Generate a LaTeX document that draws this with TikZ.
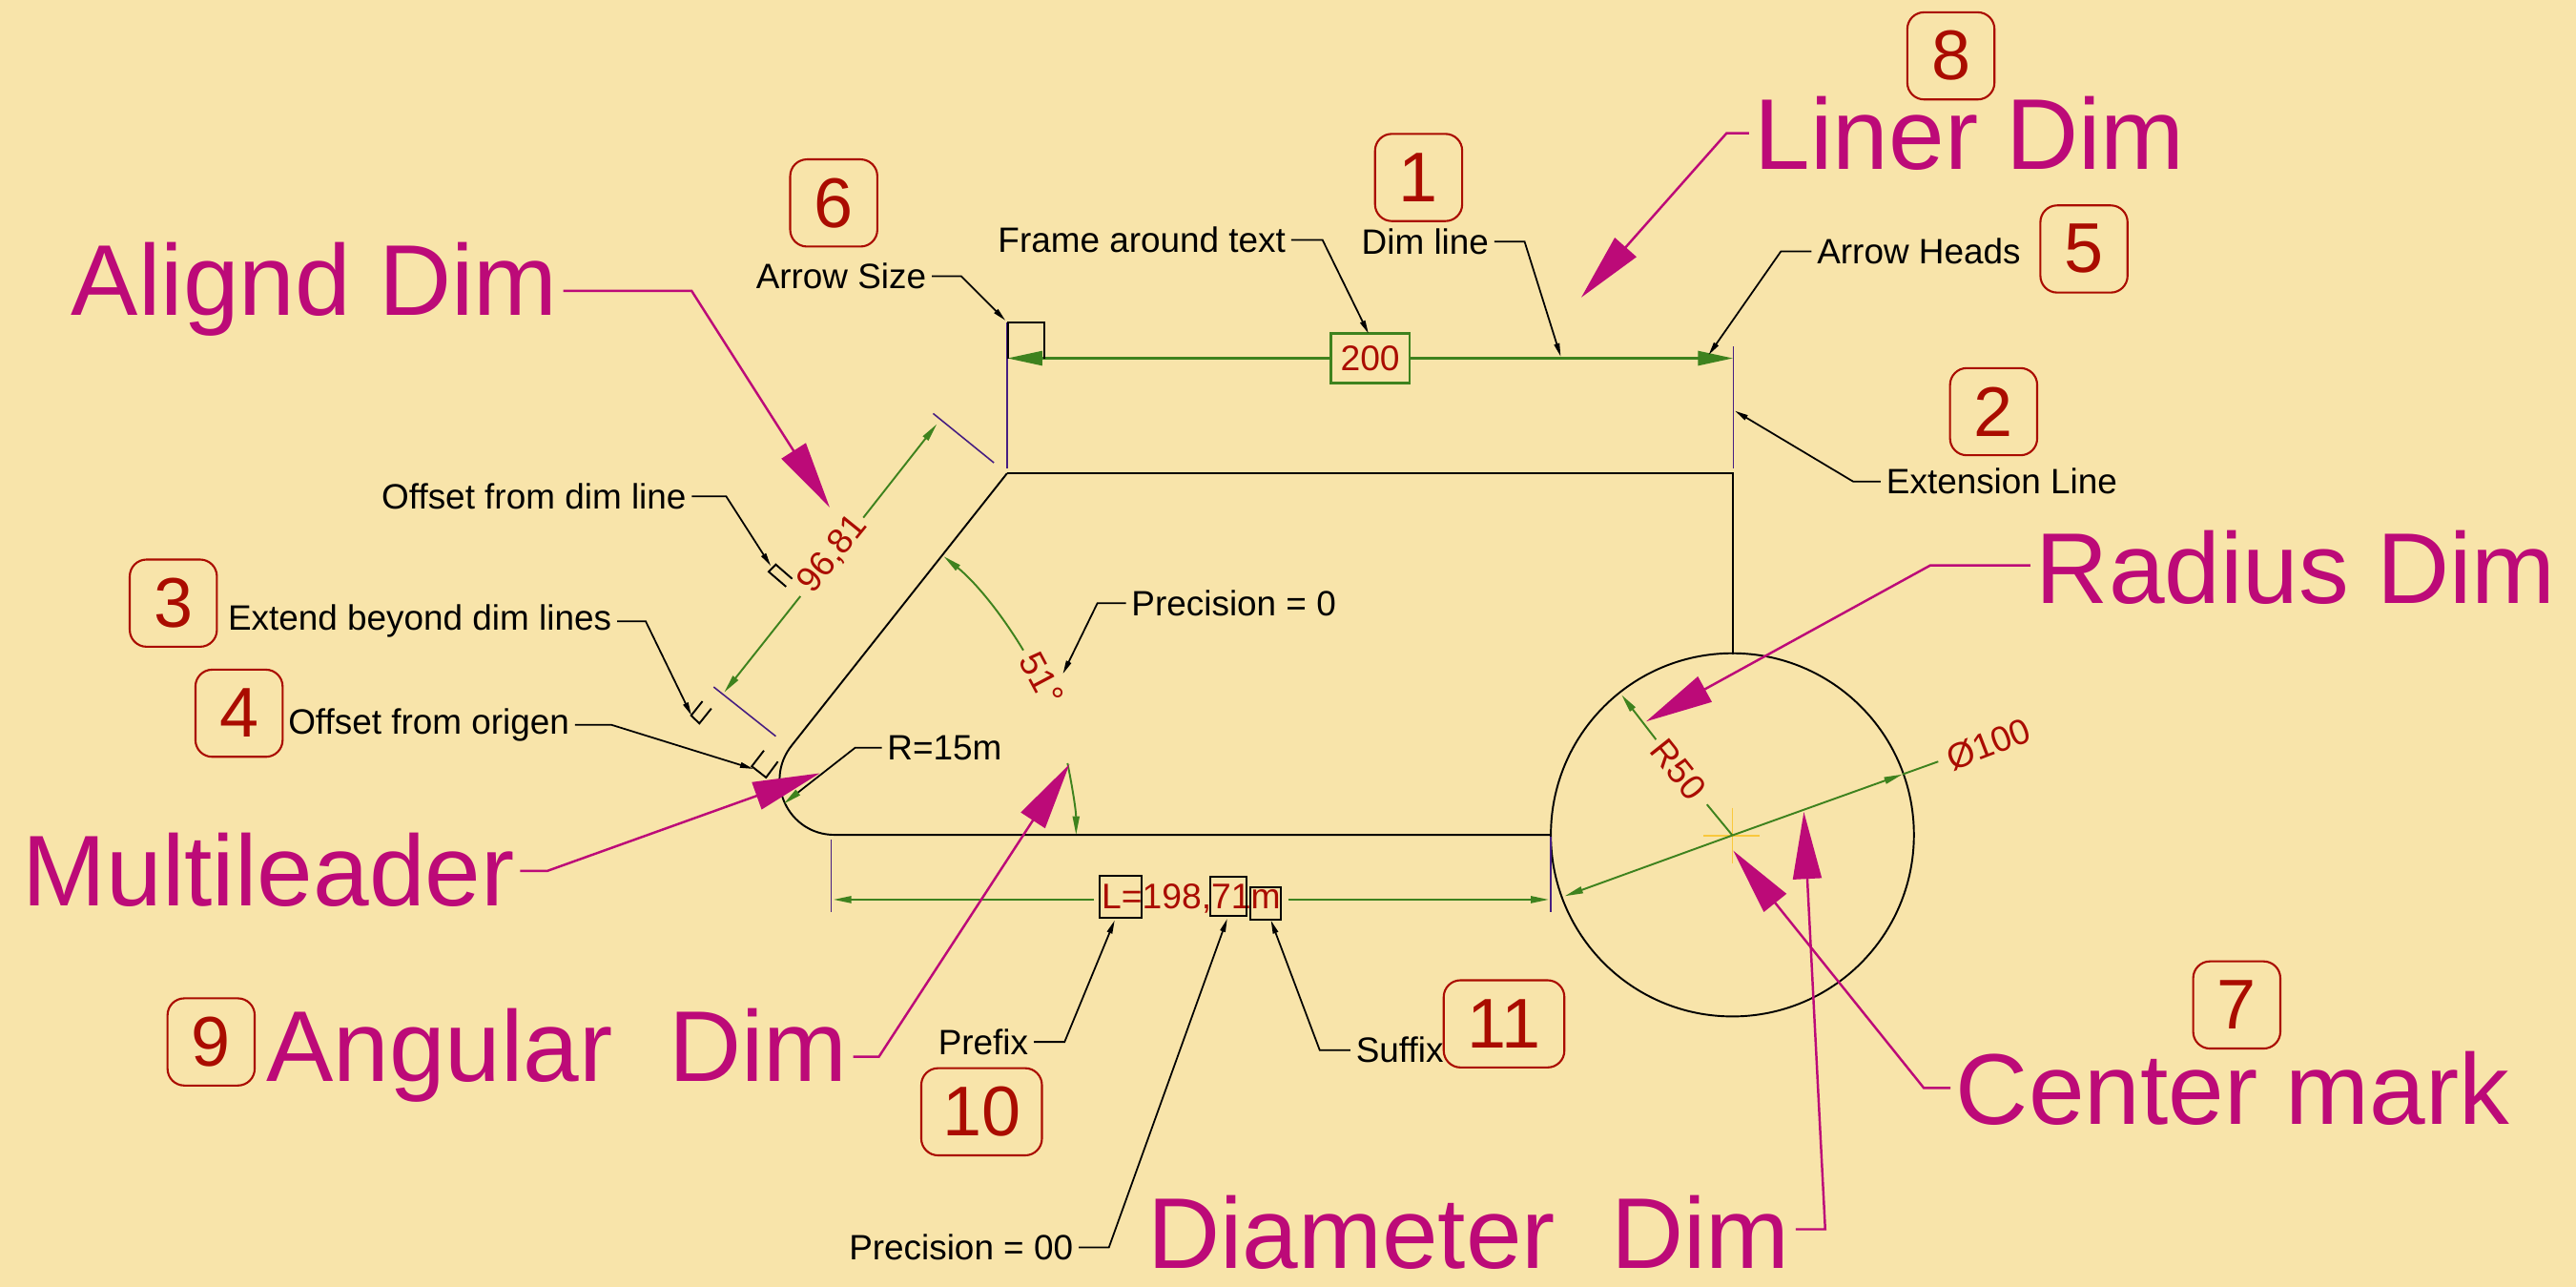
\documentclass[tikz,border=0pt]{standalone}
\usepackage{fontspec}
\setmainfont{Liberation Sans}
\usetikzlibrary{arrows.meta}
\definecolor{paper}{RGB}{248,228,170}
\definecolor{callred}{RGB}{170,12,0}
\definecolor{callmag}{RGB}{188,10,120}
\definecolor{dimgreen}{RGB}{62,130,30}
\definecolor{extpurple}{RGB}{70,30,130}
\definecolor{markyellow}{RGB}{250,200,60}
\tikzset{
  numbox/.style={draw=callred, text=callred, line width=0.6pt, rounded corners=5pt, inner sep=0pt,
    minimum width=26pt, minimum height=26pt, font=\fontsize{21}{24}\selectfont},
  widebox/.style={numbox, minimum width=36pt},
  biglabel/.style={text=callmag, anchor=base, inner sep=1.5pt, font=\fontsize{30}{34}\selectfont},
  smalllabel/.style={text=black, inner sep=1.5pt, font=\fontsize{10.5}{12}\selectfont},
  dimtext/.style={text=callred, inner sep=0pt, font=\fontsize{10.6}{12}\selectfont},
  bigleader/.style={callmag, line width=0.7pt, -{Triangle[length=20pt,width=8.5pt]}},
  smallleader/.style={black, line width=0.5pt, -{Triangle[length=4pt,width=1.6pt]}},
  dimline/.style={dimgreen, line width=0.55pt},
  dimtip/.style={dimline, -{Triangle[length=5.5pt,width=2pt]}},
  extline/.style={extpurple, line width=0.45pt},
  part/.style={black, line width=0.55pt},
  framebox/.style={black, line width=0.55pt}
}
\begin{document}
\begin{tikzpicture}[x=0.017226cm, y=-0.017226cm]
  % Background
  \fill[paper] (0,0) rectangle (1568,783);
  \useasboundingbox (0,0) rectangle (1568,783);

  % Part outline
  \draw[part] (613,288) -- (1055,288) -- (1055,398);
  \draw[part] (613,288) -- (482,453.5) .. controls (464.4,475.4) and (479.9,508) .. (508,508) -- (944,508);
  \draw[part] (1054.5,508) circle (110.5);

  % Linear dimension
  \draw[extline] (613,196) -- (613,285);
  \draw[extline] (1055,211) -- (1055,285);
  \node[draw=dimgreen, line width=0.7pt, dimtext, minimum width=23.5pt, minimum height=14.7pt] (dimTop) at (834,218) {200};
  \draw[dimgreen, line width=0.9pt, -{Triangle[length=10.5pt,width=4.2pt]}] (dimTop.west) -- (613,218);
  \draw[dimgreen, line width=0.9pt, -{Triangle[length=10.5pt,width=4.2pt]}] (dimTop.east) -- (1055,218);
  \draw[framebox] (613.8,218) -- (613.8,196) -- (635.8,196) -- (635.8,218);

  % Aligned dimension
  \draw[extline] (568,251.6) -- (605,281.6);
  \draw[extline] (434.4,418) -- (472.2,448);
  \node[dimtext, rotate=51] (dimAlign) at (507,337) {96,81};
  \draw[dimtip] (525.5,315) -- (570.3,258);
  \draw[dimtip] (487.2,362.8) -- (440.8,421.3);

  % Angular dimension
  \node[dimtext, rotate=-62] (dimAngle) at (634,413) {51°};
  \draw[dimline, {Triangle[length=5.5pt,width=2pt]}-] (574.4,338.5) .. controls (594.1,354.5) and (609.8,373.9) .. (622.9,395.7);
  \draw[dimline, -{Triangle[length=5.5pt,width=2pt]}] (649.8,464.4) .. controls (652.7,478.7) and (655,493.4) .. (655,508);

  % Bottom dimension
  \draw[extline] (506,511) -- (506,555);
  \draw[extline] (944,509) -- (944,555);
  \node[dimtext] (dimBottom) at (725,547) {L=198,71m};
  \draw[dimtip, line width=0.7pt] (666,547.4) -- (507,547.4);
  \draw[dimtip, line width=0.7pt] (784,547.4) -- (943,547.4);
  \draw[framebox] (669.2,533) rectangle (695,558.5);
  \draw[framebox] (736.6,533.5) rectangle (758.8,557.4);
  \draw[framebox] (761,540) rectangle (779.6,559.6);

  % Circle dimensions
  \draw[markyellow, line width=0.5pt] (1037,508.5) -- (1071,508.5);
  \draw[markyellow, line width=0.5pt] (1054.5,491.5) -- (1054.5,525.3);
  \node[dimtext, rotate=-51.5] (dimRadius) at (1021.7,468.3) {R50};
  \draw[dimtip] (1008,450) -- (987,422.8);
  \draw[dimline] (1039,489.5) -- (1054.5,508.3);
  \node[dimtext, rotate=21] (dimDia) at (1210.4,452.8) {Ø100};
  \draw[dimtip] (1054.5,508.3) -- (952.4,545.3);
  \draw[dimtip] (1054.5,508.3) -- (1158,471.2);
  \draw[dimline] (1158,471.2) -- (1179.8,463.4);

  % Small marks on the aligned dimension
  \draw[framebox] (482.2,352.2) -- (472.2,343.5) -- (467.9,347.9) -- (478.5,357);
  \draw[framebox] (427.6,426.7) -- (420.7,435.4) -- (425.7,440.2) -- (433,431.1);
  \draw[framebox] (465,456.7) -- (457.6,466.3) -- (466.3,473.1) -- (473.5,463.4);

  % Black call-outs
  \node[smalllabel] (arrowSize) at (512,168) {Arrow Size};
  \coordinate (arrowSizeTip) at (612,195);
  \draw[smallleader] (arrowSize.east) -- (585,168) -- (arrowSizeTip);
  \node[smalllabel] (frameText) at (695,146) {Frame around text};
  \coordinate (frameTextTip) at (833,203);
  \draw[smallleader] (frameText.east) -- (805,146) -- (frameTextTip);
  \node[smalllabel] (dimLine) at (867.5,147) {Dim line};
  \coordinate (dimLineTip) at (950,217);
  \draw[smallleader] (dimLine.east) -- (928,147) -- (dimLineTip);
  \node[smalllabel] (arrowHeads) at (1168,153) {Arrow Heads};
  \coordinate (arrowHeadsTip) at (1040,216);
  \draw[smallleader] (arrowHeads.west) -- (1084,153) -- (arrowHeadsTip);
  \node[smalllabel] (extension) at (1218.5,293) {Extension Line};
  \coordinate (extensionTip) at (1056,250);
  \draw[smallleader] (extension.west) -- (1128,293) -- (extensionTip);
  \node[smalllabel] (offsetDim) at (325,302) {Offset from dim line};
  \coordinate (offsetDimTip) at (469.2,344.4);
  \draw[smallleader] (offsetDim.east) -- (442,302) -- (offsetDimTip);
  \node[smalllabel] (extendBeyond) at (255.5,378) {Extend beyond dim lines};
  \coordinate (extendBeyondTip) at (420.9,435.4);
  \draw[smallleader] (extendBeyond.east) -- (393,378) -- (extendBeyondTip);
  \node[smalllabel] (offsetOrigin) at (261,441) {Offset from origen};
  \coordinate (offsetOriginTip) at (458.6,467.9);
  \draw[smallleader] (offsetOrigin.east) -- (372,441) -- (offsetOriginTip);
  \node[smalllabel] (rFifteen) at (575,455) {R=15m};
  \coordinate (rFifteenMid) at (483.7,483.8);
  \coordinate (rFifteenTip) at (477,489.2);
  \draw[black, line width=0.5pt] (rFifteen.west) -- (520.5,455) -- (rFifteenMid);
  \draw[dimtip] (rFifteenMid) -- (rFifteenTip);
  \node[smalllabel] (precZero) at (751,367) {Precision = 0};
  \coordinate (precZeroTip) at (647,410);
  \draw[smallleader] (precZero.west) -- (668,367) -- (precZeroTip);
  \node[smalllabel] (prefix) at (598.5,634) {Prefix};
  \coordinate (prefixTip) at (678.5,560);
  \draw[smallleader] (prefix.east) -- (648,634) -- (prefixTip);
  \node[smalllabel] (suffix) at (852,639) {Suffix};
  \coordinate (suffixTip) at (773.6,560);
  \draw[smallleader] (suffix.west) -- (803.3,639) -- (suffixTip);
  \node[smalllabel] (precTwo) at (585,759) {Precision = 00};
  \coordinate (precTwoTip) at (747,559);
  \draw[smallleader] (precTwo.east) -- (675,759) -- (precTwoTip);

  % Magenta call-outs
  \node[biglabel] (alignDim) at (191.5,192) {Alignd Dim};
  \coordinate (alignTip) at (505,308.7);
  \draw[bigleader] (alignDim.east |- 0,177) -- (421,177) -- (alignTip);
  \node[biglabel] (linerDim) at (1199,103) {Liner Dim};
  \coordinate (linerTip) at (962.5,181);
  \draw[bigleader] (linerDim.west |- 0,81) -- (1051,81) -- (linerTip);
  \node[biglabel] (radiusDim) at (1397.5,367) {Radius Dim};
  \coordinate (radiusTip) at (1002,439);
  \draw[bigleader] (radiusDim.west |- 0,344) -- (1175,344) -- (radiusTip);
  \node[biglabel] (multiLeader) at (163.5,551) {Multileader};
  \coordinate (multiTip) at (499,470.5);
  \draw[bigleader] (multiLeader.east |- 0,530) -- (333,530) -- (multiTip);
  \node[biglabel] (angularDim) at (339,658) {Angular\ \ Dim};
  \coordinate (angularTip) at (651,465);
  \draw[bigleader] (angularDim.east |- 0,643) -- (535,643) -- (angularTip);
  \node[biglabel] (centerMark) at (1359,684) {Center mark};
  \coordinate (centerTip) at (1055,517.6);
  \draw[bigleader] (centerMark.west |- 0,662) -- (1171,662) -- (centerTip);
  \node[biglabel] (diameterDim) at (894,772) {Diameter\ \ Dim};
  \coordinate (diameterTip) at (1098,494);
  \draw[bigleader] (diameterDim.east |- 0,748) -- (1111,748) -- (diameterTip);

  % Numbers
  \node[numbox] (numOne) at (863.5,108) {1};
  \node[numbox] (numTwo) at (1213.5,250.5) {2};
  \node[numbox] (numThree) at (105.5,367) {3};
  \node[numbox] (numFour) at (145.5,434) {4};
  \node[numbox] (numFive) at (1268.5,151.5) {5};
  \node[numbox] (numSix) at (507.5,123.5) {6};
  \node[numbox] (numSeven) at (1361.5,611.5) {7};
  \node[numbox] (numEight) at (1187.5,34) {8};
  \node[numbox] (numNine) at (128.5,634) {9};
  \node[widebox] (numTen) at (597.5,676.5) {10};
  \node[widebox] (numEleven) at (915.5,623) {11};
\end{tikzpicture}
\end{document}
